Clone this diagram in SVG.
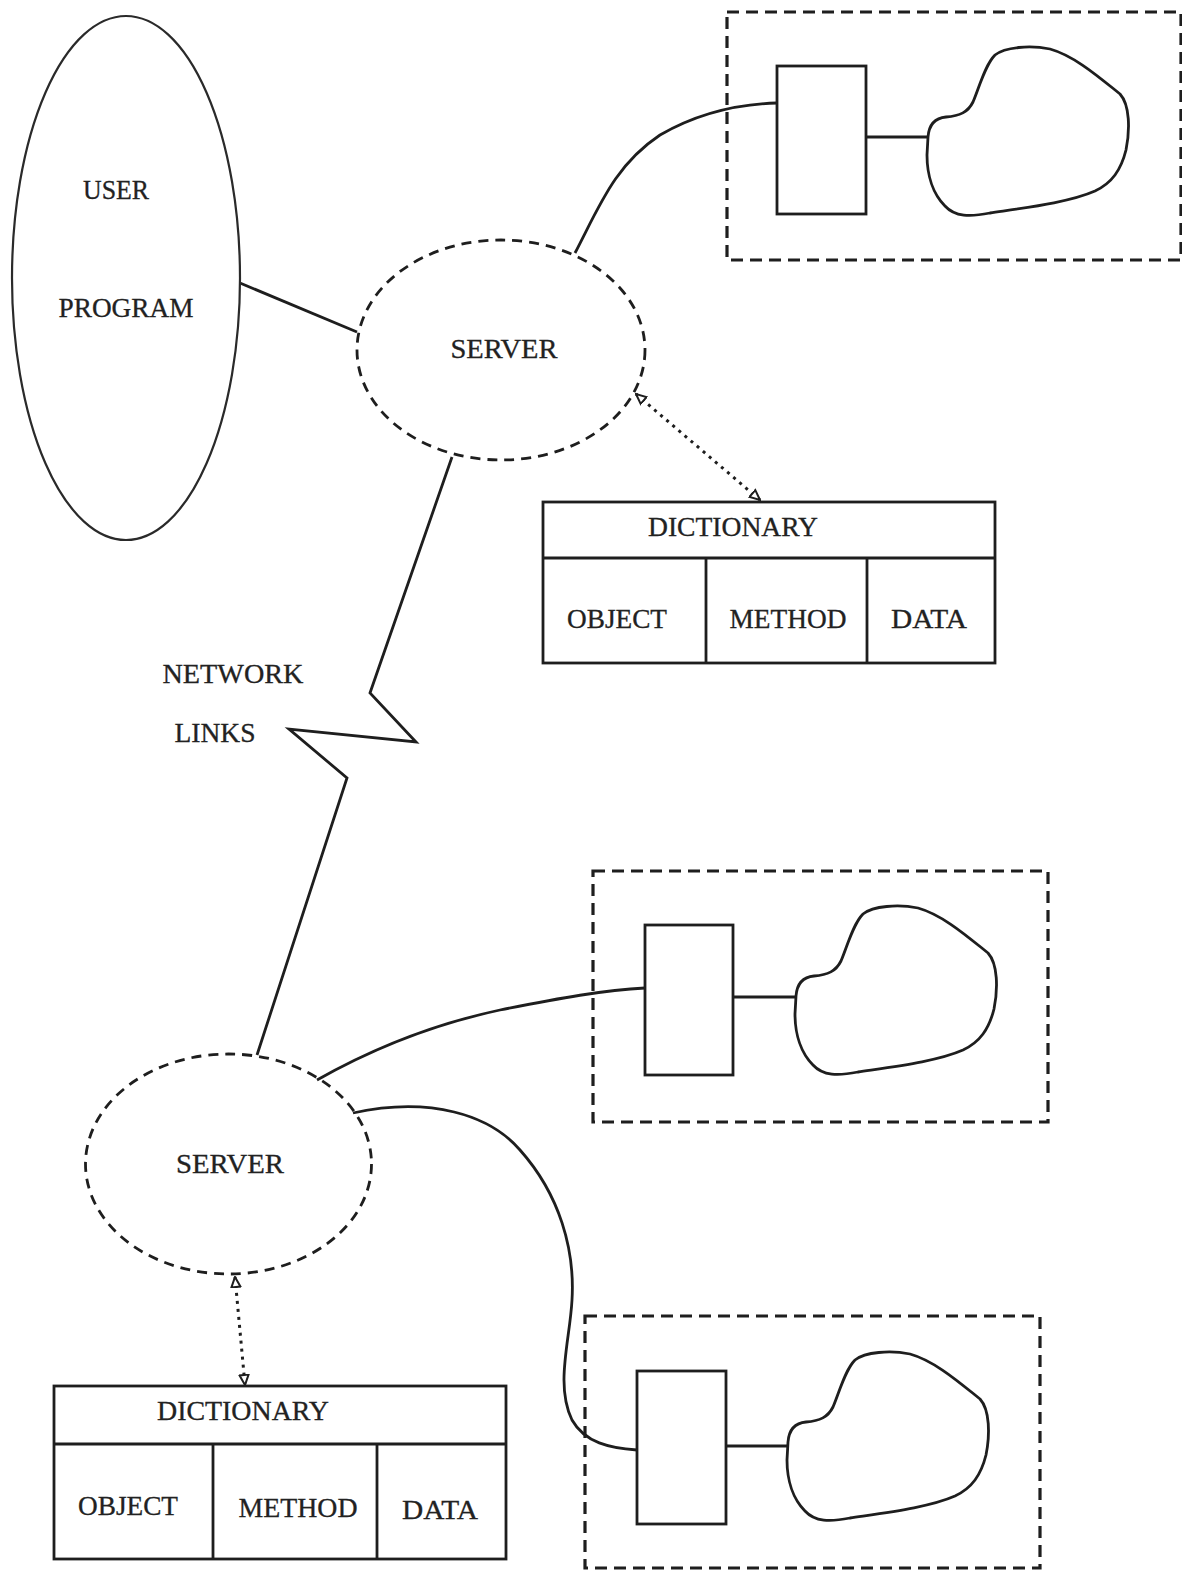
<svg xmlns="http://www.w3.org/2000/svg" width="1182" height="1571" viewBox="0 0 1182 1571">
<defs>
<style>
.txt{font-family:"Liberation Serif","Times New Roman",serif;font-size:27px;fill:#222;stroke:#222;stroke-width:0.3;}
.solid{fill:none;stroke:#1e1e1e;stroke-width:2.8;}
.thin{fill:none;stroke:#2a2a2a;stroke-width:2.2;}
.dashE{fill:none;stroke:#1e1e1e;stroke-width:2.8;stroke-dasharray:10 7;}
.dashB{fill:none;stroke:#1e1e1e;stroke-width:3.2;stroke-dasharray:12 7;}
.dot{fill:none;stroke:#1e1e1e;stroke-width:3;stroke-dasharray:3 5;}
.box{fill:none;stroke:#1e1e1e;stroke-width:2.8;}
</style>
<marker id="arr" viewBox="0 0 12 12" refX="11" refY="6" markerWidth="12" markerHeight="12" markerUnits="userSpaceOnUse" orient="auto-start-reverse">
<path d="M1,1.5 L11,6 L1,10.5 Z" fill="#fff" stroke="#1e1e1e" stroke-width="2"/>
</marker>
<path id="blob" d="M928,137 C929,124 935,118 946,117 C960,116 968,112 973,102 C979,88 985,65 995,55 C1005,47 1030,45 1050,49 C1075,56 1100,78 1120,94 C1130,105 1130,130 1126,150 C1121,170 1112,183 1095,191 C1070,202 1030,207 990,213 C970,217 955,217 945,206 C933,194 927,175 927,155 Z"/>
</defs>
<rect width="1182" height="1571" fill="#fff"/>

<g id="connectors">
<path class="solid" d="M240,283 L357,332"/>
<path class="solid" d="M575,253 C600,205 615,165 660,135 C700,112 740,104 777,103"/>
<path class="solid" d="M452,457 L370,693 L416,742 L289,729 L347,778 L257,1055"/>
<path class="solid" d="M317,1080 C370,1050 430,1025 500,1010 C560,998 605,990 645,988"/>
<path class="solid" d="M353,1113 C430,1096 490,1115 520,1150 C560,1195 575,1250 572,1300 C570,1340 555,1385 572,1420 C585,1443 610,1448 637,1450"/>
<path class="dot" d="M636,394 L760,500" marker-start="url(#arr)" marker-end="url(#arr)"/>
<path class="dot" d="M235,1277 L245,1385" marker-start="url(#arr)" marker-end="url(#arr)"/>
<path class="solid" d="M866,137 L928,137"/>
<path class="solid" d="M733,997 L796,997"/>
<path class="solid" d="M726,1446 L788,1446"/>
</g>

<g id="user-program">
<ellipse class="thin" cx="126" cy="278" rx="114" ry="262"/>
<text class="txt" x="116" y="199" text-anchor="middle" textLength="66" lengthAdjust="spacingAndGlyphs">USER</text>
<text class="txt" x="126" y="317" text-anchor="middle" textLength="135" lengthAdjust="spacingAndGlyphs">PROGRAM</text>
</g>

<g id="server-top">
<ellipse class="dashE" cx="501" cy="350" rx="144" ry="110"/>
<text class="txt" x="504" y="358" text-anchor="middle" textLength="107" lengthAdjust="spacingAndGlyphs">SERVER</text>
</g>

<g id="server-bottom">
<ellipse class="dashE" cx="228.5" cy="1164" rx="143" ry="110"/>
<text class="txt" x="230" y="1173" text-anchor="middle" textLength="108" lengthAdjust="spacingAndGlyphs">SERVER</text>
</g>

<g id="dictionary-top">
<rect class="box" x="543" y="502" width="452" height="161"/>
<line class="box" x1="543" y1="558" x2="995" y2="558"/>
<line class="box" x1="706" y1="558" x2="706" y2="663"/>
<line class="box" x1="867" y1="558" x2="867" y2="663"/>
<text class="txt" x="733" y="536" text-anchor="middle" textLength="170" lengthAdjust="spacingAndGlyphs">DICTIONARY</text>
<text class="txt" x="617" y="628" text-anchor="middle" textLength="100" lengthAdjust="spacingAndGlyphs">OBJECT</text>
<text class="txt" x="788" y="628" text-anchor="middle" textLength="117" lengthAdjust="spacingAndGlyphs">METHOD</text>
<text class="txt" x="929" y="628" text-anchor="middle" textLength="76" lengthAdjust="spacingAndGlyphs">DATA</text>
</g>

<g id="dictionary-bottom">
<rect class="box" x="54" y="1386" width="452" height="173"/>
<line class="box" x1="54" y1="1444" x2="506" y2="1444"/>
<line class="box" x1="213" y1="1444" x2="213" y2="1559"/>
<line class="box" x1="377" y1="1444" x2="377" y2="1559"/>
<text class="txt" x="243" y="1420" text-anchor="middle" textLength="172" lengthAdjust="spacingAndGlyphs">DICTIONARY</text>
<text class="txt" x="128" y="1515" text-anchor="middle" textLength="100" lengthAdjust="spacingAndGlyphs">OBJECT</text>
<text class="txt" x="298" y="1517" text-anchor="middle" textLength="119" lengthAdjust="spacingAndGlyphs">METHOD</text>
<text class="txt" x="440" y="1519" text-anchor="middle" textLength="76" lengthAdjust="spacingAndGlyphs">DATA</text>
</g>

<g id="network-links-label">
<text class="txt" x="233" y="683" text-anchor="middle" textLength="141" lengthAdjust="spacingAndGlyphs">NETWORK</text>
<text class="txt" x="215" y="742" text-anchor="middle" textLength="81" lengthAdjust="spacingAndGlyphs">LINKS</text>
</g>

<g id="object-top">
<rect class="dashB" x="727" y="12" width="454" height="248"/>
<rect class="box" x="777" y="66" width="89" height="148"/>
<use href="#blob" class="solid"/>
</g>

<g id="object-middle">
<rect class="dashB" x="593" y="871" width="455" height="251"/>
<rect class="box" x="645" y="925" width="88" height="150"/>
<use href="#blob" class="solid" transform="translate(-132,859)"/>
</g>

<g id="object-bottom">
<rect class="dashB" x="585" y="1316" width="455" height="252"/>
<rect class="box" x="637" y="1371" width="89" height="153"/>
<use href="#blob" class="solid" transform="translate(-140,1305)"/>
</g>
</svg>
